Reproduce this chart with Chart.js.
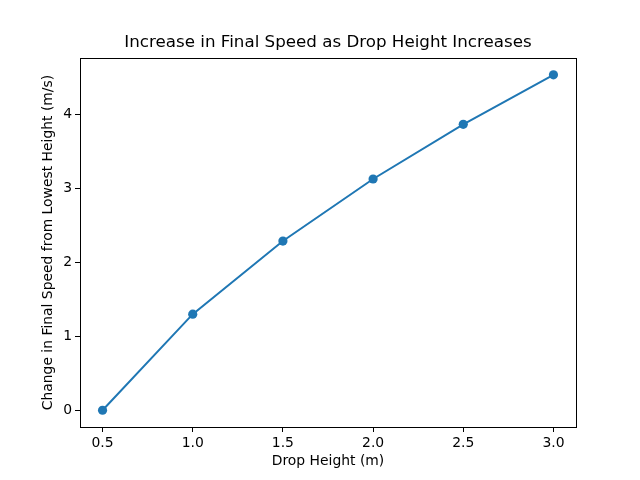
<!DOCTYPE html>
<html lang="en">
<head>
    <meta charset="UTF-8">
    <title>Increase in Final Speed as Drop Height Increases</title>
    <script src="https://cdn.jsdelivr.net/npm/chart.js"></script>
    <style>
        body { margin: 0; background: #ffffff; }
        #wrap { width: 640px; height: 480px; }
    </style>
</head>
<body>
    <div id="wrap"><canvas id="speedChart" width="640" height="480"></canvas></div>
    <script>
        // data
        const dropHeights = [0.5, 1.0, 1.5, 2.0, 2.5, 3.0];
        const speedChange = [0.0, 1.30, 2.29, 3.13, 3.87, 4.54];
        const xTicks = [0.5, 1.0, 1.5, 2.0, 2.5, 3.0];
        const yTicks = [0, 1, 2, 3, 4];

        const font = 'DejaVu Sans';
        const blue = '#1f77b4';

        // matplotlib style 5% margins
        const yRange = Math.max(...speedChange) - Math.min(...speedChange);
        const xRange = Math.max(...dropHeights) - Math.min(...dropHeights);

        // box round the plot area (top and right spines too)
        const frame = {
            id: 'frame',
            afterDraw(chart) {
                const a = chart.chartArea, ctx = chart.ctx;
                ctx.save();
                ctx.strokeStyle = '#000';
                ctx.lineWidth = 1;
                ctx.strokeRect(Math.round(a.left) + 0.5, Math.round(a.top) + 0.5,
                    Math.round(a.right - a.left), Math.round(a.bottom - a.top));
                ctx.restore();
            }
        };

        const ctx = document.getElementById('speedChart').getContext('2d');
        new Chart(ctx, {
            type: 'line',
            data: {
                datasets: [{
                    data: dropHeights.map((x, i) => ({ x: x, y: speedChange[i] })),
                    borderColor: blue,
                    backgroundColor: blue,
                    borderWidth: 2,
                    pointRadius: 4.6,
                    pointHoverRadius: 4.6,
                    pointBorderWidth: 0,
                    tension: 0
                }]
            },
            options: {
                responsive: false,
                animation: false,
                // left padding + empty right axis keep the title centred over the plot
                layout: { padding: { left: 16, right: 0, top: 0, bottom: 0 } },
                plugins: {
                    legend: { display: false },
                    tooltip: { enabled: false },
                    title: {
                        display: true,
                        text: 'Increase in Final Speed as Drop Height Increases',
                        color: '#000',
                        font: { family: font, size: 16.7, weight: 'normal', lineHeight: 1.2 },
                        padding: { top: 33, bottom: 5 }
                    }
                },
                scales: {
                    x: {
                        type: 'linear',
                        min: Math.min(...dropHeights) - 0.05 * xRange,
                        max: Math.max(...dropHeights) + 0.05 * xRange,
                        afterFit: s => { s.height = 53; },
                        afterBuildTicks: s => { s.ticks = xTicks.map(v => ({ value: v })); },
                        grid: { drawOnChartArea: false, tickLength: 5, color: '#000', tickWidth: 1 },
                        border: { display: false },
                        ticks: {
                            color: '#000',
                            padding: 3,
                            maxRotation: 0,
                            font: { family: font, size: 13.9 },
                            callback: v => v.toFixed(1)
                        },
                        title: {
                            display: true,
                            text: 'Drop Height (m)',
                            color: '#000',
                            font: { family: font, size: 13.9 },
                            padding: { top: 0, bottom: 10 }
                        }
                    },
                    y: {
                        type: 'linear',
                        min: Math.min(...speedChange) - 0.05 * yRange,
                        max: Math.max(...speedChange) + 0.05 * yRange,
                        afterFit: s => { s.width = 64; },
                        afterBuildTicks: s => { s.ticks = yTicks.map(v => ({ value: v })); },
                        grid: { drawOnChartArea: false, tickLength: 5, color: '#000', tickWidth: 1 },
                        border: { display: false },
                        ticks: {
                            color: '#000',
                            padding: 3,
                            font: { family: font, size: 13.9 },
                            callback: v => String(v)
                        },
                        title: {
                            display: true,
                            text: 'Change in Final Speed from Lowest Height (m/s)',
                            color: '#000',
                            font: { family: font, size: 13.9 },
                            padding: { top: 24, bottom: 0 }
                        }
                    },
                    yRight: {
                        type: 'linear',
                        position: 'right',
                        min: 0,
                        max: 1,
                        afterFit: s => { s.width = 64; },
                        grid: { display: false },
                        border: { display: false },
                        ticks: { display: false }
                    }
                }
            },
            plugins: [frame]
        });
    </script>
</body>
</html>
